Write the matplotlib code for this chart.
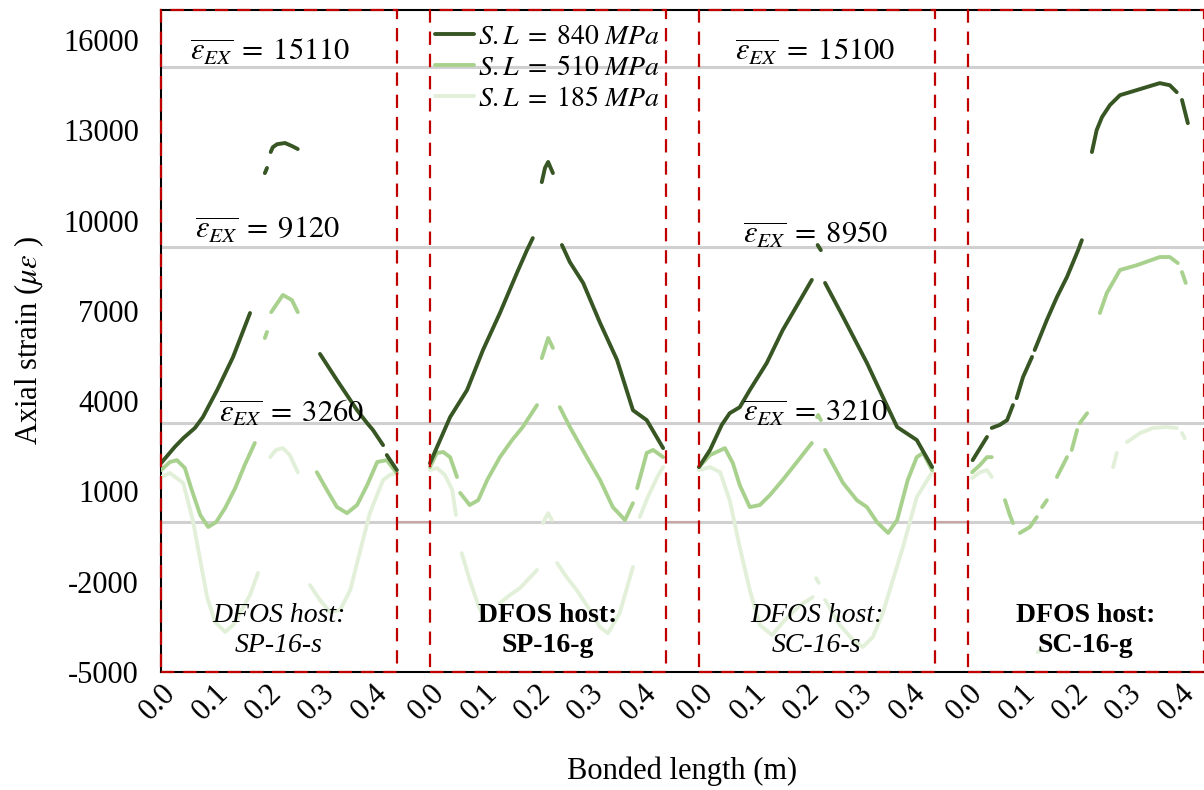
import numpy as np
import matplotlib
matplotlib.use('Agg')
from matplotlib import pyplot as plt
from matplotlib.patches import Rectangle

plt.rcParams['font.family'] = ['Liberation Serif', 'DejaVu Serif']
plt.rcParams['mathtext.fontset'] = 'stix'

# panel names and labels
panels = ['SP-16-s', 'SP-16-g', 'SC-16-s', 'SC-16-g']
panel_bold = [False, True, False, True]
series_names = ['$S.L\\;=\\;840\\ MPa$', '$S.L\\;=\\;510\\ MPa$', '$S.L\\;=\\;185\\ MPa$']
colors = ['#375623', '#A9D18E', '#E2F0D9']

# reference (mean experimental) strains written in panels 1 and 3
ref_lines = [15110, 9120, 3260, 0]
ref_p1 = [15110, 9120, 3260]
ref_p3 = [15100, 8950, 3210]

x_ticks = [0.0, 0.1, 0.2, 0.3, 0.4]
x_tick_labels = ['0.0', '0.1', '0.2', '0.3', '0.4']
y_ticks = [-5000, -2000, 1000, 4000, 7000, 10000, 13000, 16000]

N = None
# ---- SP-16-s ----
x_sp_s_840 = [0, 0.026, 0.042, 0.064, 0.079, 0.106, 0.136, 0.168, N, 0.196, 0.200, N,
              0.207, 0.211, 0.219, 0.234, 0.247, 0.258, N,
              0.300, 0.332, 0.370, 0.389, 0.400, 0.419, N, 0.426, 0.445]
y_sp_s_840 = [1940, 2480, 2770, 3110, 3470, 4370, 5470, 6930, N, 11580, 11750, N,
              12280, 12440, 12540, 12580, 12480, 12380, N,
              5570, 4700, 3700, 3270, 3040, 2540, N, 2210, 1710]
x_sp_s_510 = [0, 0.017, 0.030, 0.045, 0.058, 0.074, 0.089, 0.104, 0.121, 0.140, 0.158, 0.177, N,
              0.196, 0.200, N, 0.208, 0.230, 0.247, 0.258, N,
              0.294, 0.313, 0.332, 0.351, 0.370, 0.389, 0.408, 0.426, 0.445]
y_sp_s_510 = [1710, 1980, 2040, 1780, 1050, 220, -180, -20, 450, 1110, 1880, 2610, N,
              6100, 6300, N, 6960, 7530, 7360, 6960, N,
              1640, 1050, 480, 280, 550, 1210, 1980, 2040, 1610]
x_sp_s_185 = [0, 0.017, 0.042, 0.060, 0.074, 0.087, 0.102, 0.121, 0.136, 0.149, 0.168, 0.183, N,
              0.206, 0.217, 0.230, 0.243, 0.258, N,
              0.281, 0.300, 0.319, 0.338, 0.357, 0.370, 0.394, 0.419, 0.432, 0.445]
y_sp_s_185 = [1480, 1610, 1280, 50, -1280, -2510, -3340, -3670, -3440, -3040, -2440, -1710, N,
              2140, 2380, 2440, 2210, 1640, N,
              -2110, -2610, -3010, -2940, -2280, -1380, 280, 1380, 1550, 1610]

# ---- SP-16-g ----
x_sp_g_840 = [0, 0.038, 0.070, 0.100, 0.132, 0.164, 0.183, 0.194, N,
              0.211, 0.217, 0.223, 0.232, N,
              0.249, 0.264, 0.289, 0.321, 0.353, 0.383, 0.409, 0.440]
y_sp_g_840 = [1940, 3470, 4370, 5700, 6930, 8260, 9020, 9420, N,
              11280, 11750, 11950, 11580, N,
              9190, 8620, 7930, 6600, 5370, 3700, 3370, 2440]
x_sp_g_510 = [0, 0.013, 0.025, 0.038, 0.051, N,
              0.057, 0.075, 0.091, 0.108, 0.132, 0.155, 0.175, 0.202, N,
              0.211, 0.223, 0.232, N,
              0.245, 0.264, 0.296, 0.321, 0.345, 0.368, 0.383, N,
              0.391, 0.409, 0.421, 0.440]
y_sp_g_510 = [1810, 2280, 2310, 2140, 1480, N,
              950, 550, 710, 1380, 2140, 2710, 3140, 3870, N,
              5430, 6100, 5770, N,
              3800, 3140, 2140, 1380, 480, 50, 610, N,
              1110, 2280, 2380, 2140]
x_sp_g_185 = [0, 0.013, 0.028, 0.042, 0.049, N,
              0.060, 0.075, 0.091, 0.104, N,
              0.132, 0.151, 0.170, 0.202, N,
              0.213, 0.223, 0.230, N,
              0.240, 0.258, 0.277, 0.298, 0.321, 0.336, 0.358, 0.383, N,
              0.396, 0.411, 0.428, 0.440]
y_sp_g_185 = [1710, 1780, 1550, 1050, 220, N,
              -1050, -1940, -2780, -3270, N,
              -2710, -2440, -2210, -1610, N,
              -50, 280, 50, N,
              -1380, -1850, -2280, -2840, -3510, -3710, -3040, -1510, N,
              150, 810, 1450, 1810]

# ---- SC-16-s ----
x_sc_s_840 = [0, 0.021, 0.043, 0.058, 0.077, 0.096, 0.128, 0.158, 0.191, 0.213, N,
              0.224, 0.230, N,
              0.238, 0.272, 0.317, 0.347, 0.374, 0.411, 0.440]
y_sc_s_840 = [1810, 2380, 3210, 3600, 3800, 4370, 5270, 6360, 7360, 8030, N,
              9190, 9020, N,
              7930, 6800, 5270, 4140, 3140, 2710, 1810]
x_sc_s_510 = [0, 0.021, 0.049, 0.064, 0.077, 0.096, 0.115, 0.134, 0.158, 0.185, 0.213, N,
              0.223, 0.225, 0.230, N,
              0.238, 0.272, 0.298, 0.317, 0.336, 0.357, 0.374, 0.394, 0.411, 0.423, 0.440]
y_sc_s_510 = [1810, 2210, 2440, 1940, 1210, 480, 550, 880, 1380, 1980, 2610, N,
              3470, 3540, 3370, N,
              2380, 1280, 710, 480, -20, -380, 50, 1380, 2140, 2280, 1710]
x_sc_s_185 = [0, 0.021, 0.040, 0.058, 0.077, 0.096, 0.115, 0.138, 0.162, 0.191, 0.215, N,
              0.221, 0.226, N,
              0.238, 0.266, 0.291, 0.309, 0.328, 0.347, 0.366, 0.385, 0.411, 0.440]
y_sc_s_185 = [1710, 1810, 1640, 710, -850, -2280, -3440, -3770, -3270, -2780, -2510, N,
              -1880, -2040, N,
              -2610, -3440, -3940, -4170, -3840, -3040, -1940, -850, 810, 1640]

# ---- SC-16-g ----
x_sc_g_840 = [0.009, 0.023, 0.036, N, 0.045, 0.060, 0.074, 0.085, N,
              0.092, 0.104, 0.121, N, 0.126, 0.149, 0.168, 0.187, 0.208, 0.215, N,
              0.234, 0.243, 0.253, 0.268, 0.287, 0.319, 0.362, 0.381, 0.394, N,
              0.404, 0.415]
y_sc_g_840 = [2040, 2440, 2810, N, 3110, 3210, 3370, 3870, N,
              4100, 4800, 5470, N, 5700, 6700, 7460, 8130, 9020, 9350, N,
              12280, 13010, 13440, 13840, 14170, 14340, 14570, 14500, 14270, N,
              14010, 13240]
x_sc_g_510 = [0.008, 0.023, 0.036, 0.045, N, 0.070, 0.079, 0.085, N,
              0.098, 0.117, 0.130, N, 0.140, 0.149, N, 0.168, 0.187, N,
              0.196, 0.206, N, 0.211, 0.225, N,
              0.249, 0.262, 0.287, 0.319, 0.362, 0.381, 0.396, N,
              0.404, 0.411]
y_sc_g_510 = [1640, 1880, 2140, 2140, N, 710, 220, -50, N,
              -380, -180, 150, N, 480, 710, N, 1480, 2140, N,
              2380, 3040, N, 3270, 3600, N,
              6930, 7590, 8360, 8520, 8790, 8790, 8590, N,
              8290, 7930]
x_sc_g_185 = [0.008, 0.023, 0.036, 0.045, N, 0.132, 0.140, N,
              0.274, 0.281, N, 0.300, 0.325, 0.349, 0.375, 0.394, N,
              0.404, 0.409]
y_sc_g_185 = [1450, 1640, 1710, 1480, N, -4340, -4200, N,
              1810, 2280, N, 2640, 2940, 3110, 3140, 3110, N,
              2940, 2770]

data = [
    [(x_sp_s_840, y_sp_s_840), (x_sp_s_510, y_sp_s_510), (x_sp_s_185, y_sp_s_185)],
    [(x_sp_g_840, y_sp_g_840), (x_sp_g_510, y_sp_g_510), (x_sp_g_185, y_sp_g_185)],
    [(x_sc_s_840, y_sc_s_840), (x_sc_s_510, y_sc_s_510), (x_sc_s_185, y_sc_s_185)],
    [(x_sc_g_840, y_sc_g_840), (x_sc_g_510, y_sc_g_510), (x_sc_g_185, y_sc_g_185)],
]

panel_w = 0.445   # bonded length shown per panel
step = 0.5075     # panel + gap, in x units
ymin, ymax = -5000, 17000

fig = plt.figure(figsize=(12.04, 7.90), dpi=100)
ax = fig.add_axes([161/1204, 1 - 672/790, 1 - 161/1204, (672 - 10)/790])

for yv in ref_lines:
    ax.axhline(yv, color='#D0D0D0', lw=2.2, zorder=1)

# short zero-line pieces in the gaps between panels
for k in range(3):
    ax.plot([k*step + panel_w, (k+1)*step], [0, 0], color='#C9A6A6', lw=1.5, zorder=1.5)

for k in range(4):
    off = k*step
    # light first so dark lies on top
    for j in [2, 1, 0]:
        xs, ys = data[k][j]
        xs = np.array(xs, dtype=float) + off
        ys = np.array(ys, dtype=float)
        ax.plot(xs, ys, color=colors[j], lw=2.8, solid_capstyle='round',
                label=series_names[j] if k == 0 else None, zorder=3 + (2 - j))
    ax.add_patch(Rectangle((off, ymin), panel_w, ymax - ymin, fill=False,
                           edgecolor='#C00000', ls=(0, (6, 4)), lw=1.6, zorder=5,
                           clip_on=False))
    ax.text(off + 0.222, -3620, 'DFOS host:\n' + panels[k], ha='center', va='center',
            fontsize=20, style='normal' if panel_bold[k] else 'italic',
            fontweight='bold' if panel_bold[k] else 'normal', linespacing=1.3, zorder=6)

ref_y_p1 = [15600, 9690, 3605]
ref_x_p1 = [0.206, 0.202, 0.247]
for v, yy, xx in zip(ref_p1, ref_y_p1, ref_x_p1):
    ax.text(xx, yy, r'$\overline{\varepsilon_{EX}}\;=\;%d$' % v, ha='center', va='center',
            fontsize=22, zorder=6)
ref_y_p3 = [15600, 9520, 3605]
for v, yy in zip(ref_p3, ref_y_p3):
    ax.text(2*step + 0.220, yy, r'$\overline{\varepsilon_{EX}}\;=\;%d$' % v, ha='center',
            va='center', fontsize=22, zorder=6)

ax.set_xlim(0, 1.968)
ax.set_ylim(ymin, ymax)
ax.set_yticks(y_ticks)
ax.set_yticklabels([str(v) for v in y_ticks])

ticks = []
for k in range(4):
    ticks += [k*step + t for t in x_ticks]
ax.set_xticks(ticks)
ax.set_xticklabels(x_tick_labels*4, rotation=45, ha='right', rotation_mode='anchor')
ax.tick_params(axis='both', length=0, labelsize=22)
ax.tick_params(axis='y', pad=16)
ax.tick_params(axis='x', pad=5)

for s in ['top', 'bottom', 'left']:
    ax.spines[s].set_color('black')
    ax.spines[s].set_linewidth(1.5)
ax.spines['right'].set_visible(False)

ax.set_ylabel(r'Axial strain ($\mu\varepsilon$ )', fontsize=22, labelpad=12)
ax.set_xlabel('Bonded length (m)', fontsize=22, labelpad=22)

handles, labels = ax.get_legend_handles_labels()
order = [2, 1, 0]
ax.legend([handles[i] for i in order], [labels[i] for i in order],
          loc='upper left', bbox_to_anchor=((435 - 161)/1043, 0.978), frameon=False,
          fontsize=20, handlelength=1.4, handletextpad=0.15, labelspacing=0.2,
          borderpad=0, borderaxespad=0)

plt.savefig('out.png', dpi=100)
